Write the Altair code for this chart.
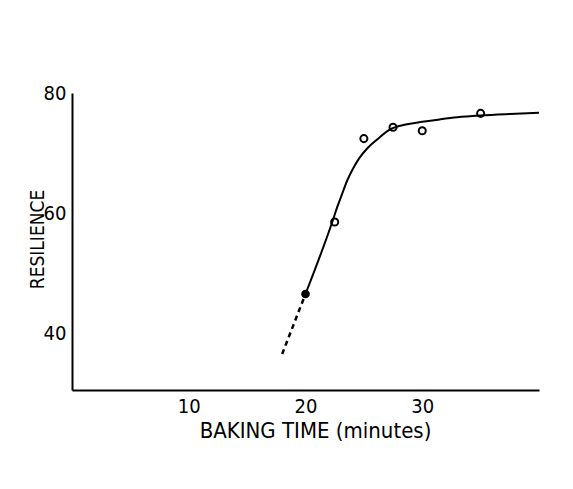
import altair as alt
import pandas as pd

FONT = "DejaVu Sans Condensed, DejaVu Sans, sans-serif"

# Observed points (baking time in minutes, resilience)
pt_x = [20, 22.5, 25, 27.5, 30, 35]
pt_y = [46.5, 58.5, 72.4, 74.3, 73.7, 76.6]
pt_filled = [True, False, False, False, False, False]

# Fitted curve (solid part)
curve_x = [20, 22.3, 22.73, 23.16, 23.59, 24.02, 24.59, 25.3, 26.16, 27.2, 28.7, 30.0, 31.5, 33.0, 35.0, 37.5, 40.0]
curve_y = [46.5, 58.55, 61.05, 63.3, 65.5, 67.2, 69.1, 70.8, 72.3, 73.9, 74.8, 75.2, 75.6, 75.95, 76.25, 76.5, 76.7]

# Extrapolated (dashed) part
dash_x = [18.0, 20.0]
dash_y = [36.5, 46.5]

x_ticks = [10, 20, 30]
y_ticks = [40, 60, 80]

pts = pd.DataFrame({"x": pt_x, "y": pt_y, "filled": pt_filled})
curve = pd.DataFrame({"x": curve_x, "y": curve_y})
dash = pd.DataFrame({"x": dash_x, "y": dash_y})

xs = alt.Scale(domain=[0, 40], nice=False, zero=False)
ys = alt.Scale(domain=[30.5, 80], nice=False, zero=False)

xax = alt.Axis(values=x_ticks, ticks=False, grid=False, domainColor="black", domainWidth=2,
               labelFont=FONT, labelFontSize=20, labelColor="black", labelPadding=6,
               title="BAKING TIME (minutes)", titleFont=FONT, titleFontSize=22,
               titleFontWeight="normal", titleColor="black",
               titleX=243, titleY=47, titleBaseline="alphabetic", titleAlign="center")
yax = alt.Axis(values=y_ticks, ticks=False, grid=False, domainColor="black", domainWidth=2,
               labelFont=FONT, labelFontSize=20, labelColor="black", labelPadding=6,
               title="RESILIENCE", titleFont=FONT, titleFontSize=19,
               titleFontWeight="normal", titleColor="black",
               titleX=-29, titleY=146, titleAngle=270, titleBaseline="alphabetic",
               titleAlign="center")

base_x = alt.X("x:Q", scale=xs, axis=xax)
base_y = alt.Y("y:Q", scale=ys, axis=yax)

solid = alt.Chart(curve).mark_line(color="black", strokeWidth=2, interpolate="monotone").encode(
    x=base_x, y=base_y)
dashed = alt.Chart(dash).mark_line(color="black", strokeWidth=2.5, strokeDash=[5, 4]).encode(
    x=alt.X("x:Q", scale=xs), y=alt.Y("y:Q", scale=ys))
open_pts = alt.Chart(pts).transform_filter("!datum.filled").mark_point(
    shape="circle", size=50, strokeWidth=2, color="black", filled=False, opacity=1).encode(
    x=alt.X("x:Q", scale=xs), y=alt.Y("y:Q", scale=ys))
full_pts = alt.Chart(pts).transform_filter("datum.filled").mark_point(
    shape="circle", size=75, strokeWidth=1, color="black", filled=True, opacity=1).encode(
    x=alt.X("x:Q", scale=xs), y=alt.Y("y:Q", scale=ys))

chart = alt.layer(solid, dashed, open_pts, full_pts).properties(
    width=467, height=297,
    autosize=alt.AutoSizeParams(type="none"),
    padding={"left": 64, "top": 85, "right": 20, "bottom": 80},
    background="white",
).configure_view(stroke=None)

chart.save("out.html", embed_options={"renderer": "svg", "actions": False})
